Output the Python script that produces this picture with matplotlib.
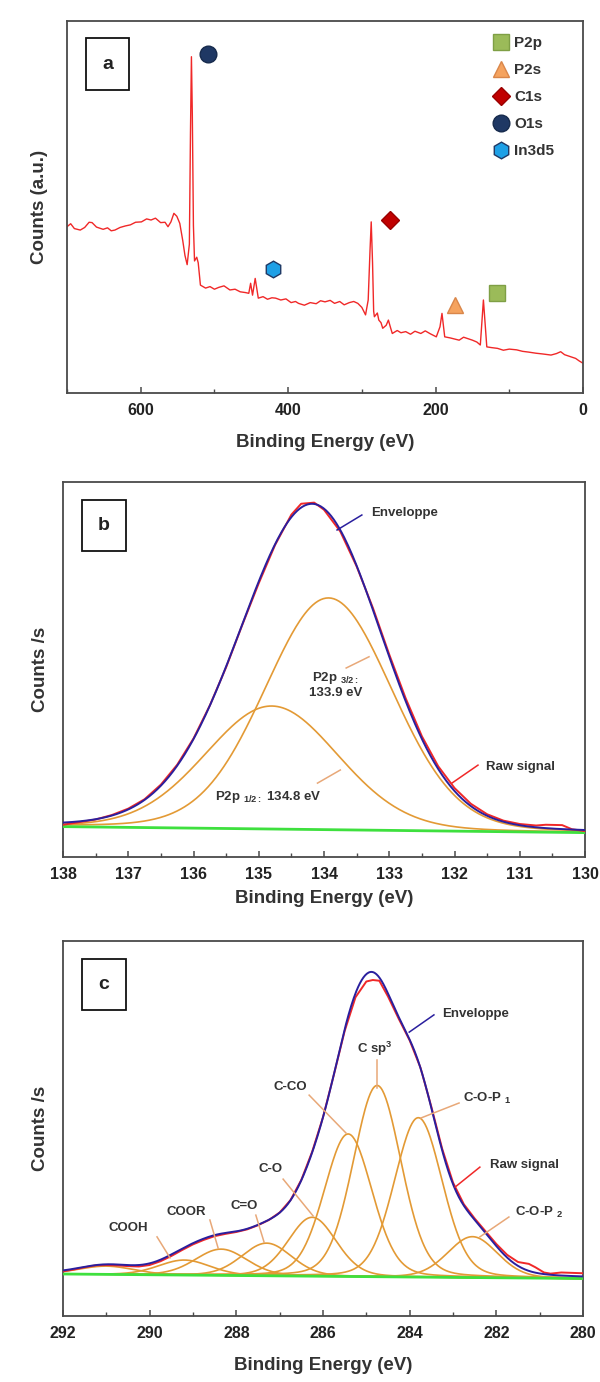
import numpy as np
import matplotlib
matplotlib.use('Agg')
import matplotlib.pyplot as plt
from matplotlib.patches import Rectangle
from matplotlib.ticker import MultipleLocator

plt.rcParams['font.family'] = ['Liberation Sans', 'DejaVu Sans']
plt.rcParams['font.weight'] = 'bold'
plt.rcParams['mathtext.fontset'] = 'custom'
plt.rcParams['mathtext.rm'] = 'Liberation Sans:bold'
plt.rcParams['mathtext.bf'] = 'Liberation Sans:bold'
plt.rcParams['mathtext.it'] = 'Liberation Sans:bold'

# ---------------- Panel a: survey spectrum ----------------
survey_energy = [700, 695, 690, 682, 676, 670, 666, 660, 651, 645, 640, 635, 628, 621, 614,
                 607, 599, 592, 586, 580, 573, 567, 563, 559, 555, 551, 547, 543, 540,
                 537, 534, 532.5, 531.2, 530, 528.5, 527, 524, 522, 519,
                 512, 506, 500, 494, 487, 479, 472, 465, 458, 453.4, 450.9, 448.3, 444.7,
                 440.5, 434, 428, 422, 417, 410, 403, 396, 390, 386, 378, 370, 362, 356,
                 350, 343, 337, 330, 324, 317, 311, 305.5, 300, 295, 291.4, 289, 287.3,
                 285.5, 284, 283, 279, 277, 274, 271.7, 267, 264, 261, 258.7, 252, 247,
                 240.5, 234, 228, 220, 214, 207, 199, 194, 191.3, 187.6, 180, 174, 168,
                 162, 157.5, 150, 144, 139.3, 135.1, 130.5, 124, 116, 108, 100, 90, 82,
                 74, 64, 55, 43.4, 36, 30.3, 25, 17.4, 10, 5, 0]
survey_counts = [44.7, 45.5, 44.2, 43.8, 44.5, 45.9, 45.8, 44.6, 44.0, 44.4, 43.6, 43.8, 44.5, 44.9, 45.2,
                 45.9, 46.0, 46.8, 46.5, 47.0, 45.8, 45.9, 44.7, 46.0, 48.3, 47.5, 45.6, 41.0, 37.0,
                 34.5, 40.0, 70.0, 90.4, 75.0, 45.0, 35.5, 36.5, 35.0, 29.0,
                 28.2, 28.6, 27.9, 28.4, 28.8, 27.7, 27.9, 27.2, 27.0, 26.8, 29.5, 26.3, 30.8,
                 25.5, 25.9, 25.2, 25.6, 25.5, 25.0, 25.3, 24.3, 24.6, 24.1, 23.6, 24.3, 24.0, 24.8,
                 24.5, 24.9, 24.1, 24.6, 23.7, 24.3, 24.6, 24.1, 23.0, 21.0, 25.0, 38.0, 46.0,
                 35.0, 22.0, 20.5, 21.5, 19.6, 18.9, 17.4, 18.2, 19.6, 17.5, 16.0, 16.8, 16.2,
                 16.5, 15.8, 16.6, 16.0, 16.7, 15.9, 15.1, 17.8, 21.4, 15.1, 14.8, 14.5, 14.2,
                 15.0, 14.7, 14.2, 13.7, 12.9, 25.0, 12.4, 12.2, 12.0, 11.5, 11.8, 11.6, 11.2,
                 11.0, 10.7, 10.5, 10.2, 10.6, 11.1, 10.3, 9.8, 9.3, 8.6, 8.0]

marker_labels = ['P2p', 'P2s', 'C1s', 'O1s', 'In3d5']
marker_energy = [116, 173, 262, 509, 420]
marker_counts = [27.0, 23.7, 46.5, 91.0, 33.2]
marker_shapes = ['s', '^', 'D', 'o', 'h']
marker_faces = ['#9bbb59', '#f5a35f', '#c00000', '#1f3864', '#1ea0e6']
marker_edges = ['#7f9f45', '#d9864a', '#9a0000', '#162a4c', '#1f3864']
marker_sizes = [12, 12, 9, 12, 12]

# ---------------- Panel b: P2p ----------------
p2p_center = [133.93, 134.80]
p2p_height = [61.8, 32.8]
p2p_fwhm = [2.3, 2.4]
p2p_eta = [0.1, 0.1]
p2p_base_E = [138, 130]
p2p_base_val = [8.1, 6.5]
p2p_raw_E = [138, 137.75, 137.5, 137.25, 137, 136.75, 136.5, 136.25, 136, 135.75, 135.5,
             135.25, 135, 134.75, 134.5, 134.35, 134.15, 134.0, 133.75, 133.5, 133.25, 133,
             132.75, 132.5, 132.25, 132, 131.75, 131.5, 131.25, 131, 130.75, 130.6, 130.35,
             130.2, 130]
p2p_raw_val = [8.6, 9.3, 10.0, 11.2, 12.9, 15.4, 19.3, 24.6, 31.6, 40.4, 50.6,
               62.0, 73.0, 83.2, 91.3, 94.2, 94.5, 92.6, 86.8, 77.5, 66.4, 54.0,
               42.4, 32.2, 24.2, 18.4, 14.2, 11.4, 9.7, 8.8, 8.4, 8.6, 8.5,
               7.4, 6.9]

# ---------------- Panel c: C1s ----------------
c1s_center = [291.0, 289.2, 288.35, 287.3, 286.25, 285.42, 284.75, 283.8, 282.55]
c1s_height = [2.2, 4.0, 7.0, 8.7, 15.7, 38.0, 51.0, 42.5, 10.9]
c1s_fwhm = [1.5, 1.4, 1.4, 1.35, 1.3, 1.3, 1.3, 1.3, 1.35]
c1s_eta = [0.15] * 9
c1s_base_E = [292, 280]
c1s_base_val = [11.2, 10.0]
c1s_raw_E = [292, 291.75, 291.5, 291.25, 291, 290.75, 290.5, 290.25, 290, 289.75, 289.5,
             289.25, 289, 288.75, 288.5, 288.25, 288, 287.75, 287.5, 287.25, 287, 286.75,
             286.5, 286.25, 286, 285.75, 285.5, 285.25, 285, 284.85, 284.7, 284.5, 284.25,
             284, 283.75, 283.5, 283.25, 283, 282.75, 282.5, 282.25, 282, 281.75, 281.5,
             281.25, 281.1, 280.9, 280.75, 280.5, 280.25, 280]
c1s_raw_val = [11.9, 12.4, 13.0, 13.5, 13.6, 13.5, 13.3, 13.2, 13.6, 14.6, 16.0,
               17.6, 19.1, 20.3, 21.3, 21.9, 22.4, 23.1, 24.2, 25.6, 27.6, 30.9,
               36.3, 43.8, 53.0, 64.3, 76.0, 85.0, 89.2, 89.6, 89.4, 85.2, 79.2,
               73.5, 66.2, 55.8, 44.6, 35.6, 29.8, 26.0, 22.6, 19.2, 16.3, 14.4,
               13.9, 13.0, 11.6, 11.3, 11.6, 11.5, 11.4]


def pseudo_voigt(E, center, height, fwhm, eta):
    sigma = fwhm / 2.3548
    g = np.exp(-(E - center) ** 2 / (2 * sigma ** 2))
    lor = 1.0 / (1.0 + ((E - center) / (fwhm / 2.0)) ** 2)
    return height * ((1 - eta) * g + eta * lor)


RED = '#f02828'
BLUE = '#2a1f9e'
ORANGE = '#e39a35'
GREEN = '#3ee03e'
LEAD = '#e8a878'
SPINE = '#4a4a4a'
TXT = '#333333'

fig = plt.figure(figsize=(6.0, 13.82), dpi=100)
W, H = 600.0, 1382.0


def add_ax(l, r, t, b):
    return fig.add_axes([l / W, (H - b) / H, (r - l) / W, (b - t) / H])


def style(ax):
    for s in ax.spines.values():
        s.set_color(SPINE)
        s.set_linewidth(1.3)
    ax.set_yticks([])
    ax.tick_params(axis='x', which='major', direction='in', length=4.5, width=1.1,
                   color=SPINE, labelsize=11.5, pad=7, labelcolor='#222222')
    ax.tick_params(axis='x', which='minor', direction='in', length=3, width=1.0, color=SPINE)
    for lab in ax.get_xticklabels():
        lab.set_fontweight('bold')


def panel_box(ax, letter):
    ax.add_patch(Rectangle((0.036, 0.815), 0.085, 0.138, transform=ax.transAxes,
                           fill=False, edgecolor='#111111', linewidth=1.3, zorder=5))
    ax.text(0.0785, 0.884, letter, transform=ax.transAxes, ha='center', va='center',
            fontsize=14, fontweight='bold', color='#222222', zorder=6)


def leader(ax, text, xy_text, xy0, xy1, color, fs=9.5):
    ax.plot([xy0[0], xy1[0]], [xy0[1], xy1[1]], color=color, lw=1.1, zorder=4)
    ax.text(xy_text[0], xy_text[1], text, ha='center', va='center', fontsize=fs,
            fontweight='bold', color=TXT, zorder=6, linespacing=1.1)


# ---------- Panel a ----------
axa = add_ax(67, 583, 21, 393)
axa.plot(survey_energy, survey_counts, color=RED, lw=1.0)
for lab, e, c, m, fc, ec, ms in zip(marker_labels, marker_energy, marker_counts, marker_shapes,
                                     marker_faces, marker_edges, marker_sizes):
    axa.plot([e], [c], linestyle='none', marker=m, markersize=ms, markerfacecolor=fc,
             markeredgecolor=ec, markeredgewidth=1.0, label=lab, zorder=5)
axa.set_xlim(700, 0)
axa.set_ylim(0, 100)
axa.xaxis.set_major_locator(MultipleLocator(200))
axa.xaxis.set_minor_locator(MultipleLocator(100))
style(axa)
axa.set_xlabel('Binding Energy (eV)', fontsize=13.5, fontweight='bold', color=TXT, labelpad=12)
axa.set_ylabel('Counts (a.u.)', fontsize=13.5, fontweight='bold', color=TXT, labelpad=14)
leg = axa.legend(loc='upper left', bbox_to_anchor=(0.812, 0.975), frameon=False,
                 fontsize=11, labelspacing=0.85, handletextpad=0.25, handlelength=1.2,
                 borderaxespad=0)
for t in leg.get_texts():
    t.set_fontweight('bold')
    t.set_color(TXT)
panel_box(axa, 'a')

# ---------- Panel b ----------
axb = add_ax(63, 585, 482, 857)
Eb = np.linspace(138, 130, 400)
base_b = np.interp(Eb, p2p_base_E[::-1], p2p_base_val[::-1])
comps_b = [pseudo_voigt(Eb, c, h, f, e) for c, h, f, e in zip(p2p_center, p2p_height, p2p_fwhm, p2p_eta)]
for comp in comps_b:
    axb.plot(Eb, base_b + comp, color=ORANGE, lw=1.2, zorder=2)
axb.plot(p2p_base_E, p2p_base_val, color=GREEN, lw=2.0, zorder=3)
axb.plot(p2p_raw_E, p2p_raw_val, color=RED, lw=1.4, zorder=3)
axb.plot(Eb, base_b + np.sum(comps_b, axis=0), color=BLUE, lw=1.4, zorder=4)
axb.set_xlim(138, 130)
axb.set_ylim(0, 100)
axb.xaxis.set_major_locator(MultipleLocator(1))
axb.xaxis.set_minor_locator(MultipleLocator(0.5))
style(axb)
axb.set_xlabel('Binding Energy (eV)', fontsize=13.5, fontweight='bold', color=TXT, labelpad=6)
axb.set_ylabel('Counts /s', fontsize=13.5, fontweight='bold', color=TXT, labelpad=10)
panel_box(axb, 'b')
leader(axb, 'Enveloppe', (132.77, 91.8), (133.42, 91.2), (133.80, 87.2), BLUE)
leader(axb, 'P2p $_{3/2:}$\n133.9 eV', (133.82, 46.1), (133.66, 50.4), (133.31, 53.4), LEAD)
leader(axb, 'P2p $_{1/2:}$ 134.8 eV', (134.86, 16.1), (134.10, 19.7), (133.75, 23.2), LEAD)
leader(axb, 'Raw signal', (130.99, 24.1), (131.64, 24.5), (132.04, 19.7), RED)

# ---------- Panel c ----------
axc = add_ax(63, 583, 941, 1316)
Ec = np.linspace(292, 280, 600)
base_c = np.interp(Ec, c1s_base_E[::-1], c1s_base_val[::-1])
comps_c = [pseudo_voigt(Ec, c, h, f, e) for c, h, f, e in zip(c1s_center, c1s_height, c1s_fwhm, c1s_eta)]
for comp in comps_c:
    axc.plot(Ec, base_c + comp, color=ORANGE, lw=1.2, zorder=2)
axc.plot(c1s_base_E, c1s_base_val, color=GREEN, lw=2.0, zorder=3)
axc.plot(c1s_raw_E, c1s_raw_val, color=RED, lw=1.4, zorder=3)
axc.plot(Ec, base_c + np.sum(comps_c, axis=0), color=BLUE, lw=1.4, zorder=4)
axc.set_xlim(292, 280)
axc.set_ylim(0, 100)
axc.xaxis.set_major_locator(MultipleLocator(2))
axc.xaxis.set_minor_locator(MultipleLocator(1))
style(axc)
axc.set_xlabel('Binding Energy (eV)', fontsize=13.5, fontweight='bold', color=TXT, labelpad=12)
axc.set_ylabel('Counts /s', fontsize=13.5, fontweight='bold', color=TXT, labelpad=10)
panel_box(axc, 'c')
leader(axc, 'COOH', (290.50, 23.5), (289.83, 21.1), (289.53, 15.5), LEAD)
leader(axc, 'COOR', (289.16, 27.7), (288.61, 25.6), (288.42, 18.1), LEAD)
leader(axc, 'C=O', (287.82, 29.3), (287.55, 26.9), (287.36, 19.7), LEAD)
leader(axc, 'C-O', (287.22, 39.2), (286.92, 36.5), (286.23, 26.7), LEAD)
leader(axc, 'C-CO', (286.76, 61.1), (286.32, 58.9), (285.47, 48.8), LEAD)
leader(axc, 'C sp$^{3}$', (284.80, 71.2), (284.75, 68.3), (284.75, 60.8), LEAD)
leader(axc, 'C-O-P $_{1}$', (282.22, 58.1), (282.86, 56.8), (283.74, 52.8), LEAD)
leader(axc, 'Raw signal', (281.36, 40.3), (282.38, 39.7), (282.95, 34.4), RED)
leader(axc, 'C-O-P $_{2}$', (281.02, 27.5), (281.71, 26.4), (282.38, 21.1), LEAD)
leader(axc, 'Enveloppe', (282.47, 80.5), (283.44, 80.3), (284.01, 75.7), BLUE)

fig.savefig('out.png', dpi=100, facecolor='white')
